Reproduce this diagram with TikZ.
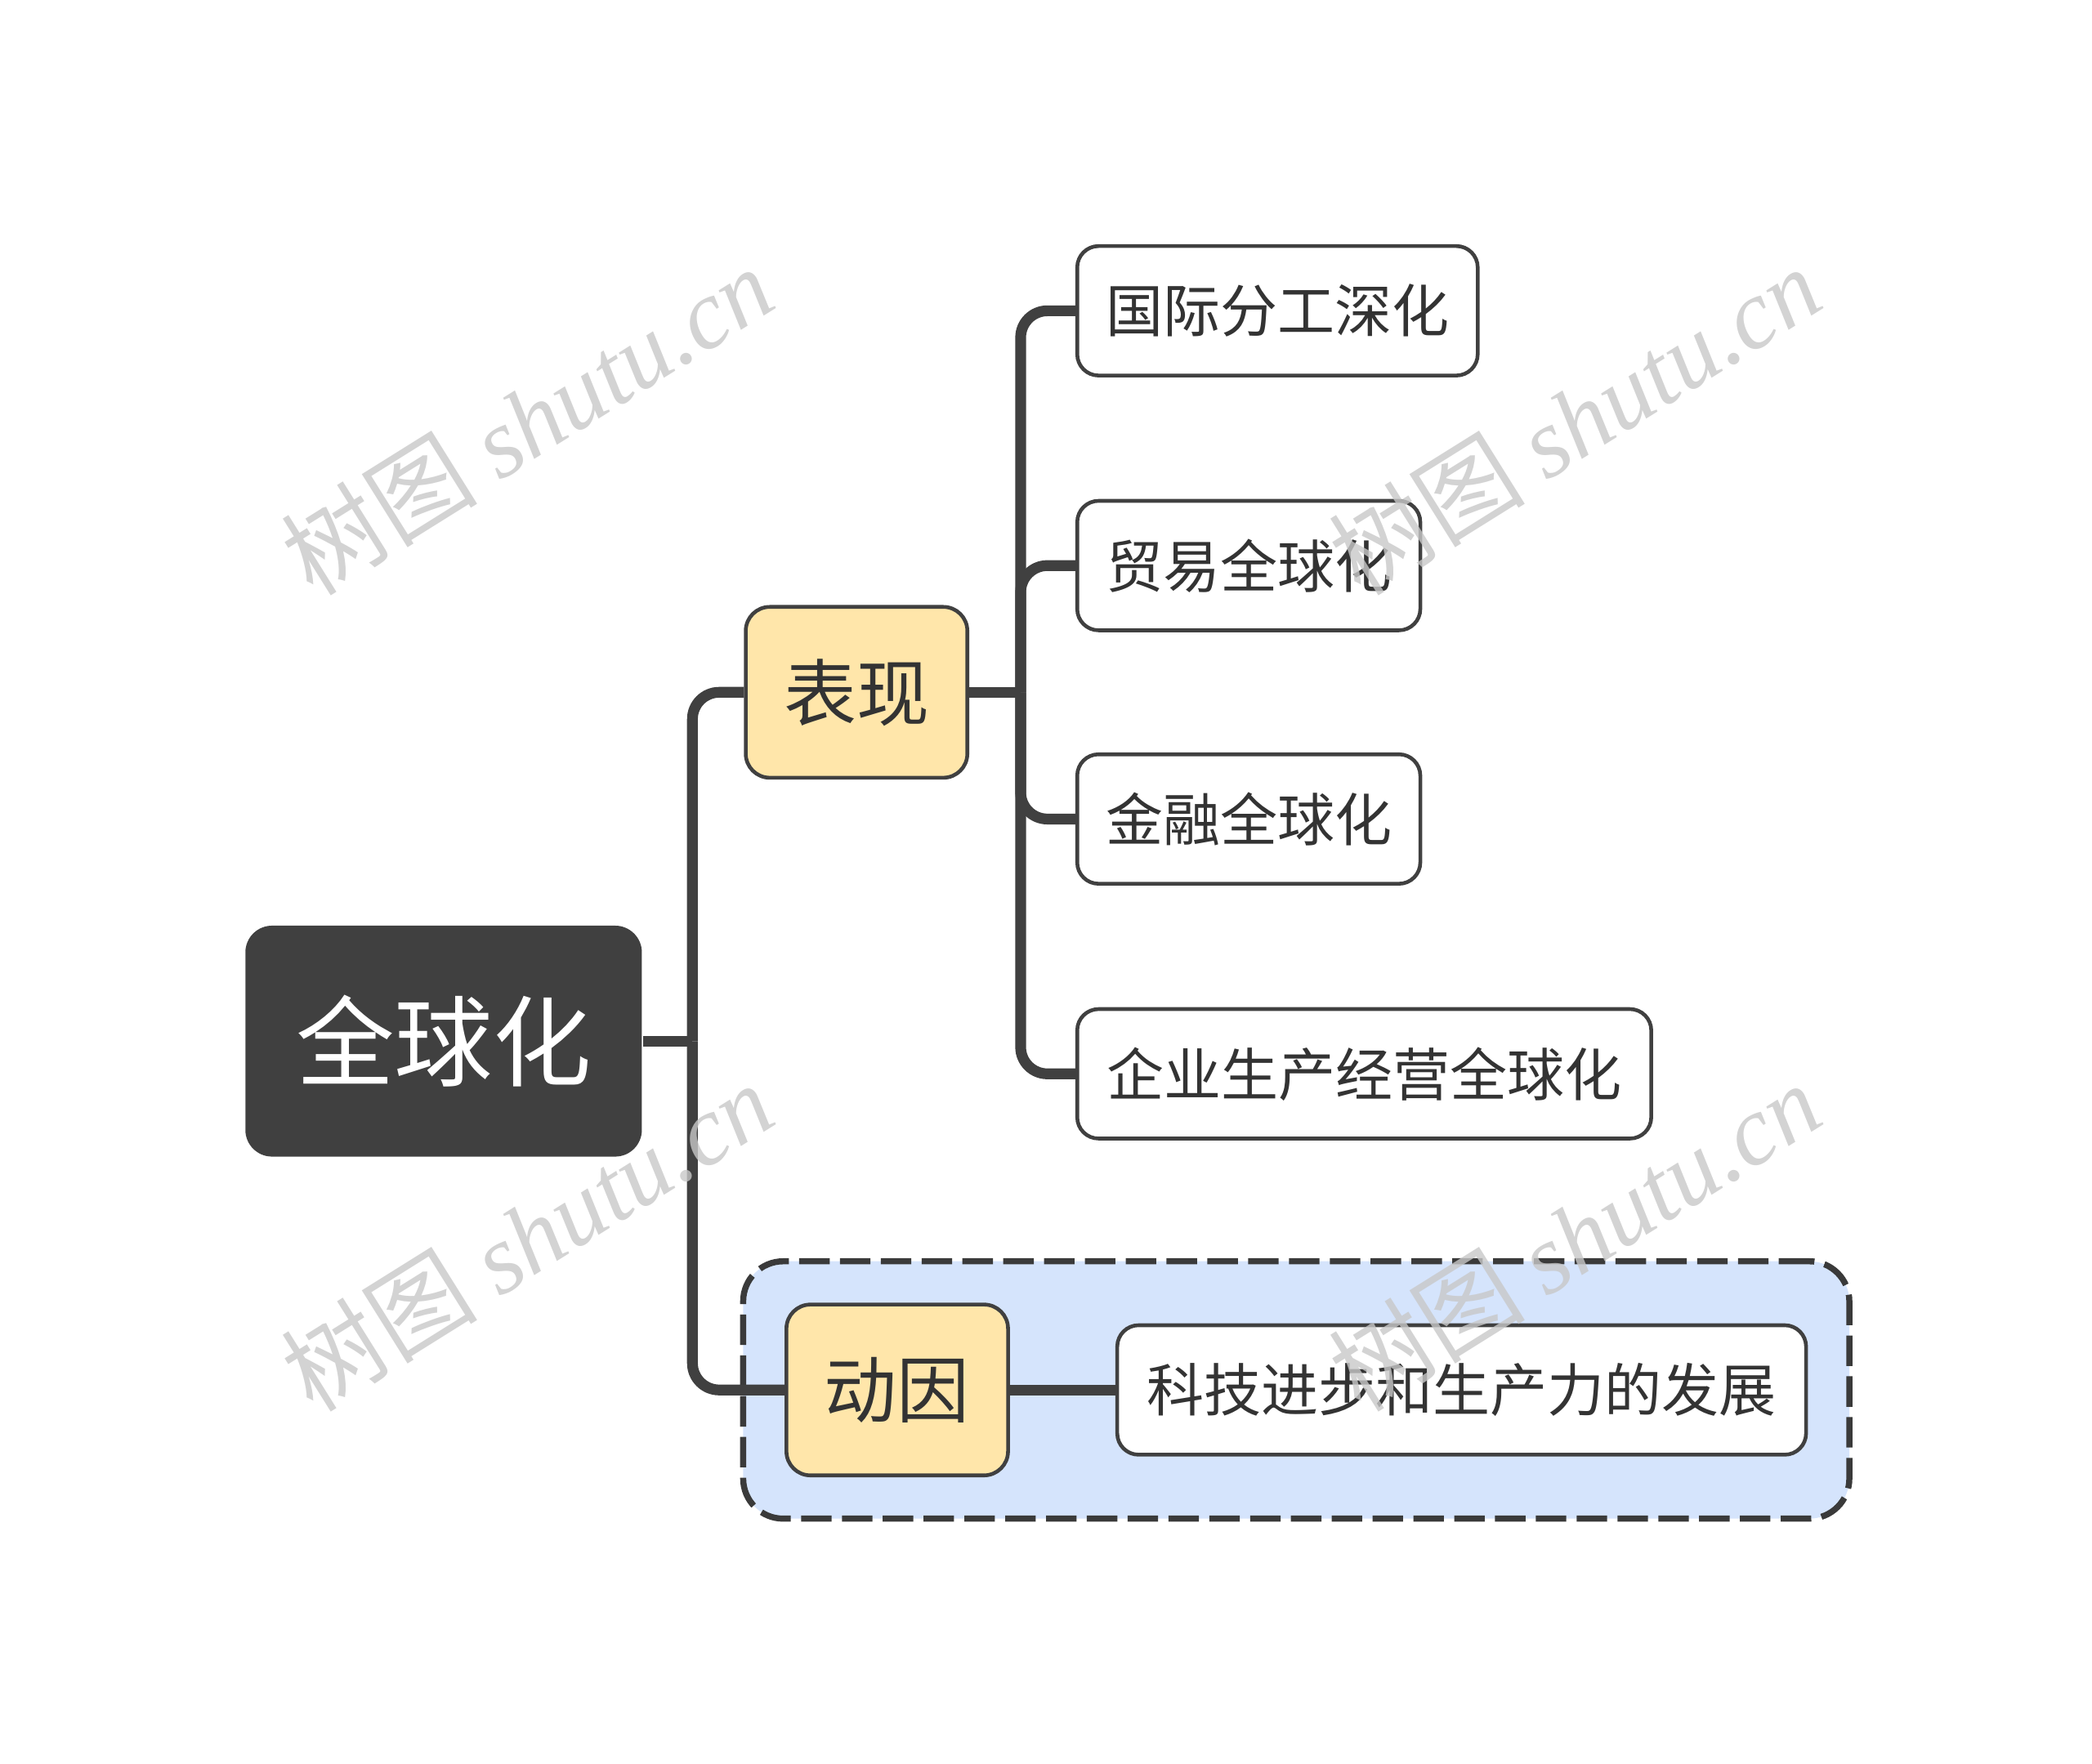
\documentclass[tikz,border=0pt]{standalone}
\usepackage{fontspec}
\setmainfont{Noto Sans CJK SC}
\newfontfamily\wmlatin{Liberation Serif}
\usetikzlibrary{fit,backgrounds}

\definecolor{inkgray}{HTML}{404040}
\definecolor{textgray}{HTML}{333333}
\definecolor{topicyellow}{HTML}{FFE6AA}
\definecolor{groupblue}{HTML}{D5E4FC}
\definecolor{markgray}{HTML}{C8C8C8}

\tikzset{
  rootbox/.style={fill=inkgray, text=white, rounded corners=0.2cm,
    minimum width=2.97cm, minimum height=1.73cm, font=\fontsize{21}{24}\selectfont},
  topicbox/.style={draw=inkgray, line width=0.8pt, fill=topicyellow, text=textgray,
    rounded corners=0.18cm, minimum width=1.66cm, minimum height=1.28cm,
    font=\fontsize{15.5}{18}\selectfont},
  leafbox/.style={draw=inkgray, line width=0.8pt, fill=white, text=textgray,
    rounded corners=0.16cm, minimum height=0.97cm, anchor=west,
    font=\fontsize{12.2}{14}\selectfont},
  branch/.style={draw=inkgray, line width=2.3pt, rounded corners=0.2cm},
  groupbox/.style={draw=inkgray!90!black, line width=1.3pt, dash pattern=on 6.5pt off 2.2pt,
    fill=groupblue, rounded corners=0.3cm, inner sep=0.31cm},
  watermark/.style={text=markgray, text opacity=0.8, rotate=32,
    font=\fontsize{21}{24}\selectfont}
}

\begin{document}
\begin{tikzpicture}[x=0.01cm, y=-0.01cm]
  \useasboundingbox (0,0) rectangle (1568,1322);

  % Central topic and the two main branches.
  \node[rootbox] (root) at (332.5,780.5) {全球化};
  \node[topicbox] (biaoxian) at (642,519) {表现};
  \node[topicbox] (dongyin) at (672.5,1042) {动因};

  % Subtopics of the first branch.
  \node[leafbox, minimum width=3.00cm] (fengong) at (806,233) {国际分工深化};
  \node[leafbox, minimum width=2.57cm] (maoyi) at (806,424) {贸易全球化};
  \node[leafbox, minimum width=2.57cm] (jinrong) at (806,614) {金融全球化};
  \node[leafbox, minimum width=4.30cm] (qiye) at (806,805) {企业生产经营全球化};

  % Subtopic of the second branch.
  \node[leafbox, minimum width=5.16cm] (keji) at (836,1042) {科技进步和生产力的发展};

  % Dashed frame round the second branch.
  \begin{pgfonlayer}{background}
    \node[groupbox, fit=(dongyin)(keji)] (dongyingroup) {};
  \end{pgfonlayer}

  % Connectors.
  \coordinate (rootfork) at (519,780.5);
  \coordinate (topicfork) at (765,519);
  \draw[branch] (root.east) -- (rootfork);
  \draw[branch] (rootfork) |- (biaoxian.west);
  \draw[branch] (rootfork) |- (dongyin.west);
  \draw[branch] (biaoxian.east) -- (topicfork);
  \foreach \leaf in {fengong,maoyi,jinrong,qiye} {
    \draw[branch] (topicfork) |- (\leaf.west);
  }
  \draw[branch] (dongyin.east) -- (keji.west);

  % Watermarks.
  \foreach \wx/\wy [count=\i] in {395/315, 1180/315, 395/927, 1180/927} {
    \node[watermark] (mark\i) at (\wx,\wy) {树图 {\wmlatin\itshape shutu.cn}};
  }
\end{tikzpicture}
\end{document}
